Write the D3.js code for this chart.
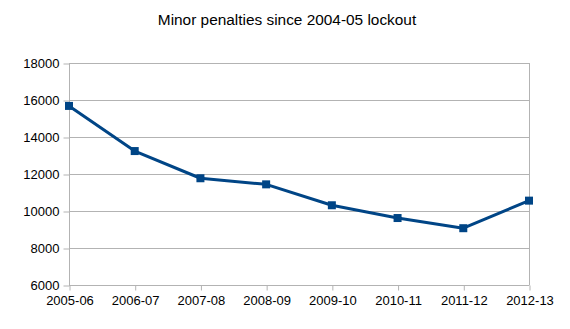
<!DOCTYPE html>
<html>
<head>
<meta charset="utf-8">
<script src="https://cdn.jsdelivr.net/npm/d3@7"></script>
<style>
  html, body { margin: 0; padding: 0; background: #fff; }
  svg { display: block; font-family: "Liberation Sans", Arial, sans-serif; }
</style>
</head>
<body>
<svg id="chart" width="570" height="329"></svg>
<script>
// Season labels along the x axis
const seasons = ["2005-06", "2006-07", "2007-08", "2008-09", "2009-10", "2010-11", "2011-12", "2012-13"];
// Minor penalties called per season
const minorPenalties = [15680, 13240, 11770, 11440, 10310, 9620, 9070, 10560];
// Y axis ticks
const yTicks = [6000, 8000, 10000, 12000, 14000, 16000, 18000];

const svg = d3.select("#chart");
const margin = { left: 69, right: 41, top: 63, bottom: 44 };
const W = 570, H = 329;

const x = d3.scalePoint().domain(seasons).range([margin.left, W - margin.right]);
const y = d3.scaleLinear().domain([6000, 18000]).range([H - margin.bottom, margin.top]);

// Title
svg.append("text")
  .attr("x", 287).attr("y", 25)
  .attr("text-anchor", "middle")
  .attr("font-size", 15.4)
  .attr("fill", "#000")
  .text("Minor penalties since 2004-05 lockout");

// Horizontal gridlines
svg.append("g").selectAll("line").data(yTicks).join("line")
  .attr("x1", margin.left).attr("x2", W - margin.right)
  .attr("y1", d => Math.round(y(d)) + 0.5).attr("y2", d => Math.round(y(d)) + 0.5)
  .attr("stroke", "#b3b3b3").attr("stroke-width", 1);

// Right border of plot area
svg.append("line")
  .attr("x1", W - margin.right + 0.5).attr("x2", W - margin.right + 0.5)
  .attr("y1", margin.top).attr("y2", H - margin.bottom)
  .attr("stroke", "#b3b3b3");

// Y axis
const yAxis = svg.append("g")
  .attr("transform", `translate(${margin.left + 0.5},0.5)`)
  .call(d3.axisLeft(y).tickValues(yTicks).tickSize(6).tickPadding(4).tickFormat(d3.format("d")));
yAxis.select(".domain").attr("stroke", "#b3b3b3").attr("d", `M0,${y(18000)}V${y(6000)}`);
yAxis.selectAll(".tick line").attr("stroke", "#b3b3b3");
yAxis.selectAll(".tick text").attr("font-size", 13).attr("fill", "#000")
  .attr("font-family", "Liberation Sans, Arial, sans-serif");

// X axis
const xAxis = svg.append("g")
  .attr("transform", `translate(0.5,${Math.round(y(6000)) + 0.5})`)
  .call(d3.axisBottom(x).tickSize(5).tickPadding(5));
xAxis.select(".domain").attr("stroke", "#b3b3b3").attr("d", `M${margin.left},0H${W - margin.right}`);
xAxis.selectAll(".tick line").attr("stroke", "#b3b3b3");
xAxis.selectAll(".tick text").attr("font-size", 13).attr("fill", "#000")
  .attr("font-family", "Liberation Sans, Arial, sans-serif");

// Series line
const line = d3.line().x((d, i) => x(seasons[i])).y(d => y(d));
svg.append("path")
  .datum(minorPenalties)
  .attr("d", line)
  .attr("fill", "none")
  .attr("stroke", "#004586")
  .attr("stroke-width", 3)
  .attr("stroke-linejoin", "round");

// Square markers
svg.append("g").selectAll("rect").data(minorPenalties).join("rect")
  .attr("x", (d, i) => x(seasons[i]) - 4)
  .attr("y", d => y(d) - 4)
  .attr("width", 8).attr("height", 8)
  .attr("fill", "#004586");
</script>
</body>
</html>
